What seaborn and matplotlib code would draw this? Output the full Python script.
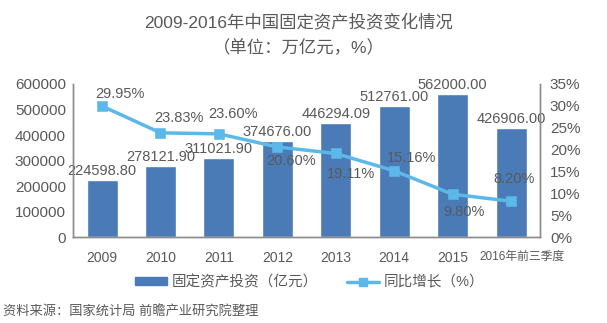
import matplotlib
matplotlib.use("Agg")
import matplotlib.pyplot as plt
import seaborn as sns
from matplotlib.patches import Patch
from matplotlib.lines import Line2D
from matplotlib.ticker import FuncFormatter
from matplotlib.transforms import ScaledTranslation

categories = ["2009", "2010", "2011", "2012", "2013", "2014", "2015", "2016年前三季度"]
investment = [224598.80, 278121.90, 311021.90, 374676.00, 446294.09, 512761.00, 562000.00, 426906.00]
growth = [29.95, 23.83, 23.60, 20.60, 19.11, 15.16, 9.80, 8.20]
left_ticks = [0, 100000, 200000, 300000, 400000, 500000, 600000]
right_ticks = [0, 5, 10, 15, 20, 25, 30, 35]

title1 = "2009-2016年中国固定资产投资变化情况"
title2 = "（单位：万亿元，%）"
legend_bar = "固定资产投资（亿元）"
legend_line = "同比增长（%）"
source = "资料来源：国家统计局 前瞻产业研究院整理"

# label offsets in pixels (style only)
pct_offsets = [(18, 12), (18, 15), (14, 20), (14, -14), (15, -21), (17, 13), (11, -18), (3, 22)]

sns.set_theme(style="white")
plt.rcParams['font.family'] = ['Liberation Sans', 'Noto Sans CJK SC', 'DejaVu Sans']

TXT = "#595959"
BAR = "#4a7bb7"
LINE = "#5bb8e8"
SPINE = "#8c8c8c"

fig = plt.figure(figsize=(6.07, 3.23), dpi=100)
ax = fig.add_axes([0.120, 0.266, 0.770, 0.474])

sns.barplot(x=categories, y=investment, ax=ax, color=BAR, width=0.53, saturation=1)
ax.set_ylim(0, 600000)
ax.set_yticks(left_ticks)
ax.yaxis.set_major_formatter(FuncFormatter(lambda v, p: f"{int(v)}"))
ax.tick_params(axis='y', labelsize=11, colors=TXT, length=0, pad=5)
ax.tick_params(axis='x', labelsize=10, colors=TXT, length=0, pad=10)

for i, v in enumerate(investment):
    ax.annotate(f"{v:.2f}", xy=(i, v), xytext=(0, 2), textcoords='offset pixels',
                ha='center', va='bottom', fontsize=10.5, color=TXT)

ax2 = ax.twinx()
sns.pointplot(x=categories, y=growth, ax=ax2, color=LINE, marker='s',
              markersize=6, linewidth=2.5)
ax2.set_ylim(0, 35)
ax2.set_yticks(right_ticks)
ax2.yaxis.set_major_formatter(FuncFormatter(lambda v, p: f"{int(v)}%"))
ax2.tick_params(axis='y', labelsize=11, colors=TXT, length=0, pad=7)
ax2.set_xlim(-0.5, len(categories) - 0.5)
ax.set_xlim(-0.5, len(categories) - 0.5)
ax.set_xlabel("")
ax.set_ylabel("")
ax2.set_ylabel("")

for i, (g, off) in enumerate(zip(growth, pct_offsets)):
    ax2.annotate(f"{g:.2f}%", xy=(i, g), xytext=off, textcoords='offset pixels',
                 ha='center', va='center', fontsize=10.5, color=TXT)

for a in (ax, ax2):
    a.spines['top'].set_visible(False)
    for s in ('left', 'right', 'bottom'):
        a.spines[s].set_color(SPINE)
        a.spines[s].set_linewidth(1)

fig.canvas.draw()
xt = ax.get_xticklabels()
for lbl in xt:
    lbl.set_color(TXT)
last = xt[-1]
last.set_fontsize(8.5)
last.set_transform(last.get_transform() + ScaledTranslation(0.11, 0, fig.dpi_scale_trans))

fig.text(0.492, 1 - 22 / 323, title1, ha='center', va='center', fontsize=12.5, color=TXT)
fig.text(0.492, 1 - 48 / 323, title2, ha='center', va='center', fontsize=12.5, color=TXT)

handles = [Patch(facecolor=BAR, edgecolor=BAR),
           Line2D([0], [0], color=LINE, marker='s', markersize=6, linewidth=2.5)]
leg = fig.legend(handles, [legend_bar, legend_line], loc='center',
                 bbox_to_anchor=(0.51, 1 - 282 / 323), ncol=2, frameon=False,
                 fontsize=10.5, handlelength=2.2, handleheight=0.4, columnspacing=2.0,
                 handletextpad=0.3)
for t in leg.get_texts():
    t.set_color(TXT)

fig.text(0.005, 1 - 311 / 323, source, ha='left', va='center', fontsize=9.5, color=TXT)

fig.savefig("out.png", dpi=100, facecolor='white')
